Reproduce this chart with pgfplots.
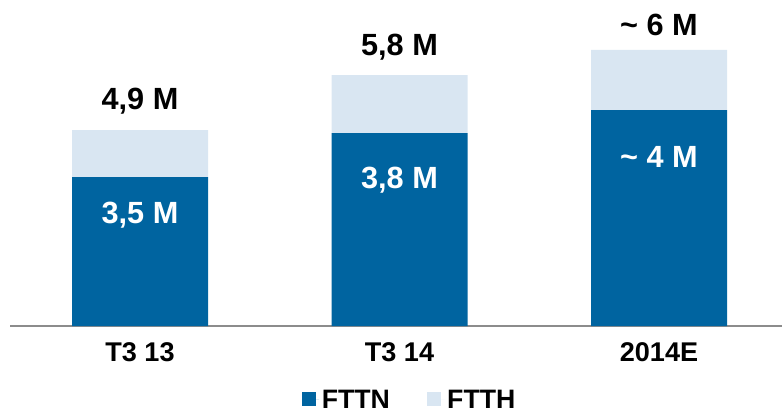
\documentclass[border=0pt]{standalone}
\usepackage{pgfplots}
\pgfplotsset{compat=1.18}
\usepackage{fontspec}
\setmainfont{Liberation Sans}
\definecolor{fttn}{RGB}{0,100,160}
\definecolor{ftth}{RGB}{217,230,242}
\definecolor{axgray}{RGB}{140,140,140}
\newcommand{\vfont}{\fontsize{23pt}{25pt}\selectfont\bfseries}
\newcommand{\tl}{\symbol{126}}
\begin{document}
\begin{tikzpicture}
\begin{axis}[
  scale only axis,
  width=579pt, height=244.5pt,
  xmin=-0.501, xmax=2.474,
  ymin=0, ymax=8.15,
  ybar stacked,
  bar width=102pt,
  axis x line*=bottom,
  axis y line=none,
  x axis line style={axgray, line width=1.5pt, -},
  xtick={0,1,2},
  xticklabels={T3 13, T3 14, 2014E},
  major tick length=0pt,
  xticklabel style={anchor=center, yshift=-19.5pt, font=\fontsize{20.3pt}{22pt}\selectfont\bfseries},
  ytick=\empty,
  clip=false,
  legend style={draw=none, fill=none, at={(0.518,-0.225)}, anchor=center,
    legend columns=2, font=\fontsize{20pt}{22pt}\selectfont\bfseries,
    nodes={inner ysep=0pt, text depth=0pt},
    /tikz/every even column/.append style={column sep=26pt},
    inner sep=0pt},
  legend image code/.code={\fill[#1] (0pt,-5.25pt) rectangle (10.5pt,5.25pt); \path (0pt,0pt) -- (13pt,0pt);},
]
\addplot[fill=fttn, draw=none] coordinates {(0,3.725) (1,4.825) (2,5.4)};
\addlegendentry{FTTN}
\addplot[fill=ftth, draw=none] coordinates {(0,1.175) (1,1.45) (2,1.5)};
\addlegendentry{FTTH}
\coordinate (i1) at (axis cs:0,2.775);
\coordinate (i2) at (axis cs:1,3.65);
\coordinate (i3) at (axis cs:2,4.225);
\coordinate (t1) at (axis cs:0,5.625);
\coordinate (t2) at (axis cs:1,6.975);
\coordinate (t3) at (axis cs:2,7.525);
\end{axis}
\node[font=\vfont, text=white] at (i1) {3,5 M};
\node[font=\vfont, text=white] at (i2) {3,8 M};
\node[font=\vfont, text=white] at (i3) {\tl\ 4 M};
\node[font=\vfont] at (t1) {4,9 M};
\node[font=\vfont] at (t2) {5,8 M};
\node[font=\vfont] at (t3) {\tl\ 6 M};
\pgfresetboundingbox
\path (-7.5pt,-64.5pt) rectangle (579pt,244.5pt);
\end{tikzpicture}
\end{document}
